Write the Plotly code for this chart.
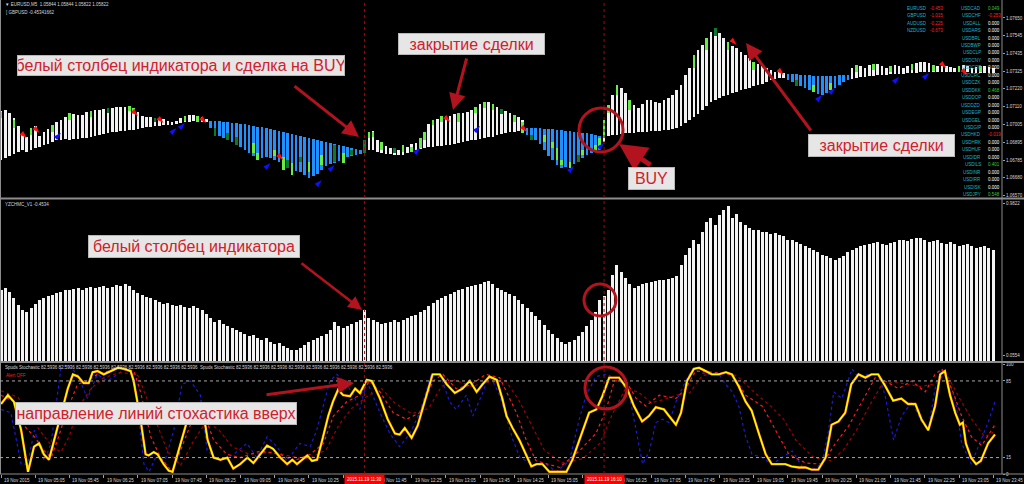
import plotly.graph_objects as go
from plotly.subplots import make_subplots

# ---------------- data ----------------
tick_labels = ["19 Nov 2015", "19 Nov 05:05", "19 Nov 05:45", "19 Nov 06:25", "19 Nov 07:05",
               "19 Nov 07:45", "19 Nov 08:25", "19 Nov 09:05", "19 Nov 09:45", "19 Nov 10:25",
               "19 Nov 11:05", "19 Nov 11:45", "19 Nov 12:25", "19 Nov 13:05", "19 Nov 13:45",
               "19 Nov 14:25", "19 Nov 15:05", "19 Nov 15:45", "19 Nov 16:25", "19 Nov 17:05",
               "19 Nov 17:45", "19 Nov 18:25", "19 Nov 19:05", "19 Nov 19:45", "19 Nov 20:25",
               "19 Nov 21:05", "19 Nov 21:45", "19 Nov 22:25", "19 Nov 23:05", "19 Nov 23:45"]
bars_per_label = 8
cursor_bars = [85, 141]
cursor_labels = ["2015.11.19 11:30", "2015.11.19 16:10"]

price_ticks = [1.07650, 1.07545, 1.07435, 1.07325, 1.07220, 1.07110, 1.07005,
               1.06895, 1.06785, 1.06680, 1.06570]

p1_top = [1.07085, 1.07091, 1.07073, 1.07043, 1.06994, 1.06952, 1.06927, 1.06982, 1.06994, 1.06933,
          1.06958, 1.06976, 1.07000, 1.07018, 1.07031, 1.07049, 1.07073, 1.07067, 1.07061, 1.07061,
          1.07079, 1.07085, 1.07091, 1.07091, 1.07097, 1.07103, 1.07103, 1.07110, 1.07110, 1.07110,
          1.07116, 1.07103, 1.07079, 1.07055, 1.07049, 1.07049, 1.07043, 1.07043, 1.07037, 1.07025,
          1.07018, 1.07025, 1.07043, 1.07055, 1.07061, 1.07061, 1.07055, 1.07049, 1.07037, 1.07025,
          1.07025, 1.07025, 1.07018, 1.07018, 1.07012, 1.07012, 1.07006, 1.07006, 1.07000, 1.06994,
          1.06988, 1.06988, 1.06982, 1.06976, 1.06970, 1.06964, 1.06958, 1.06952, 1.06946, 1.06940,
          1.06933, 1.06927, 1.06921, 1.06915, 1.06909, 1.06903, 1.06897, 1.06891, 1.06885, 1.06879,
          1.06873, 1.06867, 1.06861, 1.06855, 1.06848, 1.06909, 1.06958, 1.06964, 1.06909, 1.06885,
          1.06873, 1.06861, 1.06855, 1.06848, 1.06861, 1.06867, 1.06885, 1.06891, 1.06909, 1.06952,
          1.07006, 1.07025, 1.07037, 1.07049, 1.07055, 1.07055, 1.07067, 1.07073, 1.07073, 1.07079,
          1.07091, 1.07110, 1.07128, 1.07140, 1.07140, 1.07128, 1.07110, 1.07097, 1.07085, 1.07073,
          1.07061, 1.07049, 1.07031, 1.06982, 1.06982, 1.06982, 1.06982, 1.06976, 1.06976, 1.06976,
          1.06970, 1.06970, 1.06964, 1.06964, 1.06958, 1.06958, 1.06952, 1.06952, 1.06946, 1.06940,
          1.06933, 1.07031, 1.07122, 1.07182, 1.07243, 1.07225, 1.07194, 1.07152, 1.07122, 1.07103,
          1.07128, 1.07152, 1.07152, 1.07140, 1.07134, 1.07152, 1.07164, 1.07182, 1.07213, 1.07243,
          1.07304, 1.07346, 1.07425, 1.07455, 1.07486, 1.07528, 1.07565, 1.07589, 1.07559, 1.07528,
          1.07504, 1.07480, 1.07468, 1.07443, 1.07425, 1.07407, 1.07383, 1.07371, 1.07358, 1.07346,
          1.07334, 1.07322, 1.07322, 1.07316, 1.07310, 1.07310, 1.07310, 1.07304, 1.07304, 1.07304,
          1.07298, 1.07298, 1.07298, 1.07298, 1.07298, 1.07298, 1.07304, 1.07304, 1.07304, 1.07346,
          1.07364, 1.07358, 1.07346, 1.07364, 1.07371, 1.07371, 1.07358, 1.07346, 1.07358, 1.07364,
          1.07358, 1.07346, 1.07358, 1.07371, 1.07377, 1.07383, 1.07383, 1.07377, 1.07364, 1.07358,
          1.07358, 1.07358, 1.07352, 1.07346, 1.07358, 1.07364, 1.07358, 1.07346, 1.07352, 1.07358,
          1.07358, 1.07352, 1.07346]
p1_bot = [1.06788, 1.06800, 1.06812, 1.06824, 1.06836, 1.06848, 1.06836, 1.06848, 1.06861, 1.06867,
          1.06879, 1.06885, 1.06897, 1.06909, 1.06909, 1.06915, 1.06909, 1.06915, 1.06915, 1.06921,
          1.06921, 1.06927, 1.06933, 1.06940, 1.06946, 1.06952, 1.06958, 1.06958, 1.06964, 1.06964,
          1.06970, 1.06970, 1.06976, 1.06982, 1.06988, 1.06988, 1.06994, 1.06994, 1.07000, 1.07000,
          1.07000, 1.07006, 1.07012, 1.07018, 1.07018, 1.07025, 1.07025, 1.07018, 1.07018, 1.06982,
          1.06952, 1.06933, 1.06921, 1.06909, 1.06897, 1.06879, 1.06867, 1.06848, 1.06830, 1.06812,
          1.06788, 1.06800, 1.06806, 1.06800, 1.06788, 1.06776, 1.06764, 1.06739, 1.06727, 1.06721,
          1.06715, 1.06697, 1.06679, 1.06691, 1.06703, 1.06727, 1.06751, 1.06764, 1.06770, 1.06782,
          1.06800, 1.06806, 1.06812, 1.06818, 1.06824, 1.06830, 1.06848, 1.06848, 1.06836, 1.06830,
          1.06824, 1.06824, 1.06818, 1.06818, 1.06818, 1.06830, 1.06836, 1.06848, 1.06855, 1.06861,
          1.06867, 1.06867, 1.06873, 1.06873, 1.06879, 1.06879, 1.06885, 1.06891, 1.06897, 1.06903,
          1.06909, 1.06909, 1.06915, 1.06921, 1.06927, 1.06927, 1.06940, 1.06946, 1.06952, 1.06958,
          1.06958, 1.06964, 1.06964, 1.06940, 1.06927, 1.06909, 1.06885, 1.06848, 1.06812, 1.06788,
          1.06757, 1.06739, 1.06745, 1.06757, 1.06764, 1.06776, 1.06800, 1.06818, 1.06830, 1.06836,
          1.06848, 1.06897, 1.06933, 1.06940, 1.06940, 1.06946, 1.06952, 1.06952, 1.06952, 1.06958,
          1.06958, 1.06958, 1.06964, 1.06964, 1.06964, 1.06970, 1.06970, 1.06976, 1.06982, 1.06994,
          1.07012, 1.07031, 1.07049, 1.07067, 1.07091, 1.07116, 1.07140, 1.07152, 1.07164, 1.07176,
          1.07182, 1.07194, 1.07201, 1.07213, 1.07219, 1.07225, 1.07237, 1.07243, 1.07249, 1.07261,
          1.07273, 1.07279, 1.07286, 1.07286, 1.07273, 1.07261, 1.07249, 1.07237, 1.07225, 1.07213,
          1.07201, 1.07188, 1.07182, 1.07194, 1.07213, 1.07225, 1.07243, 1.07261, 1.07273, 1.07279,
          1.07286, 1.07292, 1.07292, 1.07298, 1.07298, 1.07304, 1.07304, 1.07304, 1.07310, 1.07310,
          1.07310, 1.07310, 1.07316, 1.07316, 1.07316, 1.07322, 1.07322, 1.07322, 1.07322, 1.07322,
          1.07322, 1.07322, 1.07322, 1.07322, 1.07322, 1.07322, 1.07322, 1.07316, 1.07316, 1.07316,
          1.07316, 1.07316, 1.07316]
trend_runs = [("up", 0, 48), ("down", 49, 84), ("up", 85, 122), ("down", 123, 140),
              ("up", 141, 183), ("down", 184, 198), ("up", 199, 232)]

# candle bodies drawn over the indicator bars: bar, body top, body bottom, kind
cndl_bar = [0, 3, 7, 12, 16, 21, 25, 30, 31, 36, 43, 46, 50, 53, 55, 59, 60, 64, 66, 67, 68, 70,
            72, 75, 78, 80, 82, 85, 86, 87, 89, 92, 94, 96, 98, 99, 101, 103, 107, 111, 113, 115,
            117, 120, 122, 124, 127, 129, 130, 131, 133, 135, 136, 139, 140, 141, 142, 144, 147,
            162, 165, 167, 170, 176, 186, 190, 194, 200, 204, 208, 213, 218, 224, 229]
cndl_hi = [1.07079, 1.07031, 1.06982, 1.07000, 1.07073, 1.07085, 1.07103, 1.07116, 1.07103, 1.07043,
           1.07055, 1.07055, 1.06982, 1.06952, 1.06927, 1.06891, 1.06830, 1.06848, 1.06806, 1.06788,
           1.06770, 1.06806, 1.06776, 1.06818, 1.06879, 1.06830, 1.06848, 1.06909, 1.06958, 1.06958,
           1.06897, 1.06861, 1.06879, 1.06867, 1.06921, 1.06958, 1.07031, 1.07055, 1.07073, 1.07110,
           1.07140, 1.07128, 1.07097, 1.07061, 1.07018, 1.06940, 1.06940, 1.06897, 1.06861, 1.06788,
           1.06776, 1.06818, 1.06848, 1.06879, 1.06921, 1.07031, 1.07122, 1.07243, 1.07152,
           1.07425, 1.07528, 1.07589, 1.07504, 1.07383, 1.07273, 1.07243, 1.07255, 1.07364, 1.07371,
           1.07358, 1.07371, 1.07364, 1.07358, 1.07358]
cndl_lo = [1.07043, 1.06982, 1.06940, 1.06958, 1.07031, 1.07049, 1.07073, 1.07085, 1.07067, 1.07018,
           1.07025, 1.07018, 1.06933, 1.06909, 1.06879, 1.06830, 1.06788, 1.06812, 1.06727, 1.06739,
           1.06697, 1.06776, 1.06715, 1.06757, 1.06776, 1.06770, 1.06818, 1.06830, 1.06921, 1.06927,
           1.06848, 1.06830, 1.06836, 1.06836, 1.06861, 1.06909, 1.07000, 1.07018, 1.07018, 1.07073,
           1.07103, 1.07091, 1.07067, 1.07018, 1.06952, 1.06909, 1.06897, 1.06861, 1.06788, 1.06757,
           1.06739, 1.06776, 1.06818, 1.06836, 1.06867, 1.06921, 1.07073, 1.07182, 1.07091,
           1.07346, 1.07455, 1.07540, 1.07455, 1.07334, 1.07237, 1.07201, 1.07213, 1.07322, 1.07334,
           1.07322, 1.07334, 1.07328, 1.07322, 1.07322]
cndl_kind = ["bull", "bull", "bull", "bull", "bull", "bull", "bear", "bull", "bull", "bear",
             "bull", "bull", "bear", "bear", "bear", "bull", "bull", "bull", "bull", "bear",
             "bull", "bear", "bull", "bull", "bear", "bull", "bear", "bear", "bull", "bull",
             "bull", "bear", "bull", "bull", "bull", "bull", "bull", "bull", "bull", "bull",
             "bull", "bull", "bear", "bull", "bull", "bear", "bull", "bull", "bull", "bull",
             "bull", "bear", "bull", "bull", "bull", "bull", "bull", "bull", "bull",
             "bull", "bull", "bear", "bull", "bull", "bear", "bull", "bull", "bull", "bull",
             "bull", "bull", "bull", "bull", "bull"]

sell_bars = [6, 9, 32, 38, 48, 66, 105, 123, 172, 183, 221, 226]
sell_price = [1.06921, 1.06952, 1.07055, 1.07012, 1.07012, 1.06788, 1.07018, 1.06958,
              1.07486, 1.07304, 1.07346, 1.07304]
buy_bars = [14, 41, 43, 63, 75, 78, 98, 112, 134, 141, 192, 195, 210, 217]
buy_price = [1.06952, 1.06982, 1.07012, 1.06770, 1.06666, 1.06757, 1.06861, 1.06994,
             1.06751, 1.06891, 1.07182, 1.07225, 1.07292, 1.07316]

osc = [0.452, 0.464, 0.440, 0.403, 0.360, 0.330, 0.318, 0.342, 0.366, 0.391,
       0.403, 0.415, 0.421, 0.434, 0.440, 0.452, 0.452, 0.458, 0.464, 0.452,
       0.464, 0.470, 0.464, 0.470, 0.476, 0.464, 0.470, 0.482, 0.476, 0.488,
       0.476, 0.452, 0.434, 0.421, 0.409, 0.403, 0.391, 0.379, 0.366, 0.372,
       0.360, 0.354, 0.360, 0.348, 0.342, 0.354, 0.342, 0.330, 0.305, 0.281,
       0.257, 0.269, 0.244, 0.232, 0.220, 0.208, 0.196, 0.183, 0.171, 0.177,
       0.159, 0.147, 0.159, 0.135, 0.122, 0.129, 0.110, 0.098, 0.086, 0.086,
       0.098, 0.116, 0.135, 0.147, 0.159, 0.171, 0.183, 0.208, 0.257, 0.232,
       0.220, 0.232, 0.244, 0.257, 0.269, 0.330, 0.281, 0.269, 0.257, 0.244,
       0.251, 0.257, 0.269, 0.257, 0.269, 0.281, 0.293, 0.299, 0.318, 0.330,
       0.354, 0.372, 0.391, 0.403, 0.415, 0.427, 0.440, 0.452, 0.458, 0.470,
       0.476, 0.482, 0.488, 0.501, 0.507, 0.488, 0.464, 0.452, 0.440, 0.427,
       0.415, 0.391, 0.366, 0.342, 0.318, 0.293, 0.269, 0.238, 0.208, 0.183,
       0.159, 0.135, 0.122, 0.135, 0.147, 0.171, 0.196, 0.232, 0.269, 0.318,
       0.391, 0.415, 0.452, 0.543, 0.604, 0.562, 0.525, 0.488, 0.464, 0.476,
       0.488, 0.494, 0.501, 0.507, 0.513, 0.513, 0.519, 0.525, 0.537, 0.604,
       0.665, 0.708, 0.757, 0.732, 0.805, 0.866, 0.891, 0.848, 0.909, 0.940,
       0.964, 0.891, 0.915, 0.866, 0.848, 0.830, 0.818, 0.818, 0.805, 0.805,
       0.793, 0.799, 0.787, 0.781, 0.757, 0.757, 0.744, 0.732, 0.720, 0.708,
       0.696, 0.683, 0.665, 0.659, 0.647, 0.635, 0.647, 0.659, 0.683, 0.696,
       0.708, 0.720, 0.726, 0.732, 0.738, 0.744, 0.732, 0.726, 0.738, 0.744,
       0.757, 0.757, 0.750, 0.763, 0.769, 0.769, 0.757, 0.744, 0.750, 0.757,
       0.738, 0.732, 0.744, 0.732, 0.720, 0.726, 0.732, 0.720, 0.708, 0.714,
       0.720, 0.708, 0.696]

main_bar = [0, 1.6, 3, 4.7, 6.3, 7.7, 8.9, 10, 11.2, 12.4, 14, 15.6, 16.8, 18, 19.3, 20.5, 21.4, 22.6,
            24, 25.6, 27.3, 28.7, 30.3, 31, 32.6, 33.8, 34.5, 35.7, 36.6, 38, 39.2, 40.1, 41.3, 43.6,
            45, 46.2, 47.1, 48.3, 49.7, 51.3, 52.9, 54.3, 55.9, 57.6, 59, 60.6, 62.2, 63.6, 65.3,
            66.9, 68.1, 69.2, 70.4, 71.6, 72.7, 73.9, 75.1, 76.5, 77.6, 78.8, 80, 81.6, 82.8, 83.9,
            85.5, 86.7, 88.6, 90.4, 92.1, 93.2, 94.4, 96, 97.4, 99.1, 100.9, 102.6, 104.2, 106.1,
            107.9, 109.6, 111.2, 112.6, 114.2, 115.9, 117.2, 118.2, 119.6, 121.2, 122.8, 124, 125.2,
            126.6, 128.2, 132.2, 133.6, 135.7, 137.5, 139.2, 140.6, 142.2, 144.5, 146.4, 148, 149.9,
            151.5, 153.1, 155, 156.2, 157.8, 159, 160.4, 162, 163.2, 164.8, 166.2, 167.8, 169.5,
            170.9, 172.5, 174.1, 175.5, 177.2, 178.8, 180.2, 181.8, 183.4, 184.8, 186.5, 188.1,
            189.5, 191.1, 192.8, 194.2, 195.8, 197.4, 198.8, 200.5, 202.1, 203.5, 205.1, 206.8,
            208.6, 210.5, 212.1, 213.8, 215.2, 216.8, 218.4, 219.6, 220.7, 221.9, 223.1, 224.2,
            224.9, 225.6, 226.8, 228, 229.1, 230.8, 232.4]
main_val = [64, 72, 66, 40, 2, 25, 28, 18, 13, 31, 56, 78, 91, 89, 83, 83, 93, 94,
            91, 94, 97, 96, 94, 85, 50, 18, 17, 20, 18, 9, 3, 2, 18, 50,
            62, 64, 61, 31, 15, 13, 15, 5, 9, 15, 10, 18, 26, 23, 15,
            9, 13, 9, 13, 17, 12, 13, 31, 53, 66, 77, 72, 71, 78, 74,
            86, 85, 69, 50, 37, 36, 42, 33, 44, 66, 91, 91, 82, 74,
            78, 85, 75, 82, 89, 86, 69, 53, 42, 31, 17, 7, 9,
            9, 2, 2, 13, 37, 56, 59, 71, 88, 88, 78, 62, 48,
            53, 61, 59, 53, 45, 56, 85, 96, 97, 94, 91, 91, 93,
            91, 80, 66, 58, 37, 18, 9, 9, 9, 7, 6, 6,
            4, 4, 15, 45, 48, 56, 82, 91, 88, 91, 91, 80,
            67, 69, 64, 64, 50, 40, 62, 91, 94, 72, 56, 45,
            47, 28, 15, 9, 12, 28, 36]

sig1_bar = [0, 3.1, 5.4, 7.8, 10.1, 11.7, 13.2, 15.5, 17.9, 20.2, 22.5, 25.6, 28, 31.1, 32.6, 35, 37.3,
            40, 42.3, 45.1, 47.4, 49.7, 52.8, 55.9, 60.6, 65.3, 68.4, 72.3, 75.4, 77.7, 80.8, 83.9,
            86.2, 88.6, 91.7, 94.8, 97.9, 101, 103.3, 106.4, 109.6, 113.4, 116.6, 118.2, 120.5, 122.8,
            125.1, 130.6, 135.2, 139.1, 141.5, 143.4, 146.1, 148.5, 150.8, 153.9, 157.8, 160.1, 162.4,
            166.3, 171, 174.1, 178, 181.1, 184.2, 188.1, 192, 195.1, 198.2, 201.3, 204.4, 206.7, 209.8,
            212.9, 216.1, 218.4, 220, 222.3, 224.6, 226.9, 229.3, 231.6, 232.4]
sig1_val = [72, 66, 44, 34, 21, 15, 31, 59, 82, 85, 91, 94, 97, 94, 75, 34, 15,
            2, 25, 53, 56, 31, 18, 15, 21, 18, 12, 18, 28, 53, 66, 72,
            85, 75, 56, 50, 56, 85, 91, 78, 81, 91, 88, 75, 56, 31,
            12, 6, 21, 37, 59, 85, 85, 69, 62, 72, 69, 78, 94,
            93, 91, 72, 62, 40, 18, 10, 9, 28, 44, 66, 88, 85, 78,
            85, 75, 91, 96, 78, 53, 34, 26, 40, 45]

sig2_bar = [0, 4, 7, 9, 12, 14, 16, 18, 21, 24, 28, 32, 34, 37, 39, 42, 45, 48, 51, 54, 58, 63, 68,
            72, 76, 79, 82, 86, 89, 92, 96, 100, 103, 106, 110, 114, 118, 121, 124, 127, 131, 136,
            140, 143, 146, 149, 152, 155, 158, 161, 164, 168, 172, 176, 180, 183, 186, 190, 194, 197,
            200, 203, 206, 209, 212, 215, 218, 221, 224, 227, 230, 232]
sig2_val = [76, 70, 52, 40, 25, 20, 35, 60, 78, 88, 93, 90, 70, 40, 20, 8, 30, 48, 40, 25, 18, 20, 16,
            14, 22, 45, 60, 72, 78, 65, 55, 60, 80, 86, 80, 84, 85, 68, 45, 22, 10, 14,
            28, 55, 78, 75, 65, 68, 72, 74, 90, 92, 90, 75, 62, 50, 30, 15, 12, 22,
            40, 62, 82, 84, 82, 80, 82, 92, 70, 50, 34, 38]

fast_bar = [0, 2.3, 4.7, 6.2, 7.8, 10.1, 11.7, 14, 15.5, 17.9, 20.2, 22.5, 24.9, 27.2, 29.5, 31.1, 33.4,
            34.6, 36.5, 38.1, 40.4, 42.3, 44.3, 46.6, 48.2, 51.3, 54.4, 57.5, 59.8, 62.2, 64.5, 66.8,
            69.9, 72.3, 73.8, 76.9, 78.5, 80.8, 82.4, 83.9, 85.5, 88.6, 90.9, 93.2, 95.6, 97.9, 100.6,
            102.6, 104.9, 106.4, 108.8, 110.3, 112.7, 114.2, 116.6, 119.7, 121.3, 124.4, 127.5, 129.8,
            132.9, 135.2, 136.8, 139.1, 141.5, 144.6, 146.9, 148.5, 150, 151.6, 153.1, 154.7, 156.2,
            157.8, 160.1, 161.7, 164.8, 167.9, 169.4, 171, 172.5, 174.1, 175.6, 178, 180.3, 182.6,
            185, 187.3, 190.4, 192, 193.5, 194.7, 196.6, 199, 200.5, 202.8, 205.2, 206.7, 208.7,
            210.6, 213, 215.3, 216.8, 218.4, 220, 221.5, 223.1, 224.6, 226.9, 228.5, 230.8, 232.4]
fast_val = [59, 56, 9, 9, 40, 12, 28, 97, 100, 91, 69, 91, 85, 91, 97, 91, 9,
            2, 18, 9, 40, 82, 85, 72, 21, 12, 18, 28, 15, 34, 25, 12,
            28, 25, 40, 85, 91, 82, 72, 59, 85, 56, 37, 25, 37, 56, 91,
            91, 66, 59, 72, 53, 75, 91, 72, 31, 15, 9, 9, 2,
            12, 50, 72, 89, 91, 86, 72, 40, 9, 21, 47, 50, 47,
            66, 85, 96, 91, 91, 82, 75, 62, 34, 18, 15, 9, 15,
            21, 7, 5, 10, 40, 75, 69, 96, 88, 91, 91, 72, 31,
            53, 66, 47, 40, 78, 96, 85, 69, 28, 9, 25, 47, 66]

left_pairs = ["EURUSD", "GBPUSD", "AUDUSD", "NZDUSD"]
left_vals = [-0.453, -1.015, -0.225, -0.673]
right_pairs = ["USDCAD", "USDCHF", "USDALL", "USDARS", "USDBRL", "USDBWP", "USDCLP", "USDCNY",
               "USDCOP", "USDCRC", "USDCZK", "USDDKK", "USDDOP", "USDDZD", "USDEGP", "USDGEL",
               "USDGIP", "USDHKD", "USDHRK", "USDHUF", "USDIDR", "USDILS", "USDINR", "USDIRR",
               "USDISK", "USDJPY"]
right_vals = [0.049, -0.253, 0, 0, 0, 0, 0, 0, 0, 0, 0, 0.468, 0, 0, 0, 0, 0, -0.019, 0, 0, 0,
              0.401, 0, 0, 0, 0.548]

# ---------------- geometry helpers ----------------
W, H = 1024, 484
ML, MR, MT, MB = 0, 22, 0, 10
PW, PH = W - ML - MR, H - MT - MB


def PX(x):
    return (x - ML) / PW


def PY(y):
    return 1 - (y - MT) / PH


FS = 4.5
SMALL = dict(family="Liberation Sans", size=FS, color="#d8d8d8")

fig = make_subplots(rows=3, cols=1, shared_xaxes=True)

# ---- panel 1 ----
up_x, up_b, up_h, dn_x, dn_b, dn_h = [], [], [], [], [], []
for kind, a, b in trend_runs:
    for i in range(a, b + 1):
        if kind == "up":
            up_x.append(i); up_b.append(p1_bot[i]); up_h.append(p1_top[i] - p1_bot[i])
        else:
            dn_x.append(i); dn_b.append(p1_bot[i]); dn_h.append(p1_top[i] - p1_bot[i])
fig.add_trace(go.Bar(x=up_x, y=up_h, base=up_b, width=0.62,
                     marker=dict(color="#f2f2f2", line_width=0)), row=1, col=1)
fig.add_trace(go.Bar(x=dn_x, y=dn_h, base=dn_b, width=0.62,
                     marker=dict(color="#1e90ff", line_width=0)), row=1, col=1)
for kind, col in [("bull", "#66ee44"), ("bear", "#0c7a2c")]:
    idx = [k for k, kk in enumerate(cndl_kind) if kk == kind]
    fig.add_trace(go.Bar(x=[cndl_bar[k] for k in idx],
                         y=[cndl_hi[k] - cndl_lo[k] for k in idx],
                         base=[cndl_lo[k] for k in idx], width=0.62,
                         marker=dict(color=col, line_width=0)), row=1, col=1)
fig.add_trace(go.Scatter(x=sell_bars, y=sell_price, mode="markers",
                         marker=dict(symbol="arrow", angle=135, size=8, color="#ff1010")), row=1, col=1)
fig.add_trace(go.Scatter(x=buy_bars, y=buy_price, mode="markers",
                         marker=dict(symbol="arrow", angle=45, size=8, color="#1010ff")), row=1, col=1)

# ---- panel 2 ----
fig.add_trace(go.Bar(x=list(range(len(osc))), y=osc, width=0.7,
                     marker=dict(color="#f4f4f4", line_width=0)), row=2, col=1)

# ---- panel 3 ----
fig.add_trace(go.Scatter(x=fast_bar, y=fast_val, mode="lines",
                         line=dict(color="#1a1ad8", width=1.2, dash="dot")), row=3, col=1)
fig.add_trace(go.Scatter(x=sig2_bar, y=sig2_val, mode="lines",
                         line=dict(color="#a00000", width=1.2, dash="dot")), row=3, col=1)
fig.add_trace(go.Scatter(x=sig1_bar, y=sig1_val, mode="lines",
                         line=dict(color="#ff1a1a", width=1.2, dash="dot")), row=3, col=1)
fig.add_trace(go.Scatter(x=main_bar, y=main_val, mode="lines",
                         line=dict(color="#ff8000", width=2.4)), row=3, col=1)
fig.add_trace(go.Scatter(x=main_bar, y=main_val, mode="lines",
                         line=dict(color="#ffff00", width=1.4)), row=3, col=1)

n_bars = len(p1_top)
tickvals = [k * bars_per_label for k in range(len(tick_labels))]
xr = [-0.25, n_bars + 1.05]
for ax in ["xaxis", "xaxis2", "xaxis3"]:
    fig.layout[ax].update(range=xr, showgrid=False, zeroline=False, showticklabels=False,
                          showline=False)
fig.layout.xaxis3.update(tickvals=tickvals, ticks="outside", ticklen=3, tickcolor="#a0a0a0",
                         tickwidth=1)

yax_common = dict(side="right", showgrid=False, zeroline=False, tickfont=SMALL,
                  ticks="outside", ticklen=2, tickcolor="#a0a0a0", showline=False)
fig.layout.yaxis.update(domain=[PY(197), 1], range=[1.06563, 1.07759], tickvals=price_ticks,
                        tickformat=".5f", **yax_common)
fig.layout.yaxis2.update(domain=[PY(361), PY(200)], range=[0.0188, 1.0005],
                         tickvals=[0.9822, 0.0554], tickformat=".4f", **yax_common)
fig.layout.yaxis3.update(domain=[0, PY(363)], range=[0, 101.4], tickvals=[100, 85, 15, 0],
                         tickformat="d", **yax_common)

shapes = []
# panel separators and frame
for y in [198.5, 362]:
    shapes.append(dict(type="line", xref="paper", yref="paper", x0=0, x1=PX(1024), y0=PY(y), y1=PY(y),
                       line=dict(color="#8c8c8c", width=2)))
shapes.append(dict(type="line", xref="paper", yref="paper", x0=0, x1=PX(1024), y0=PY(474), y1=PY(474),
                   line=dict(color="#8c8c8c", width=1)))
shapes.append(dict(type="line", xref="paper", yref="paper", x0=PX(1002), x1=PX(1002), y0=PY(474), y1=1,
                   line=dict(color="#8c8c8c", width=1)))
shapes.append(dict(type="line", xref="paper", yref="paper", x0=PX(0.5), x1=PX(0.5), y0=PY(474), y1=1,
                   line=dict(color="#8c8c8c", width=1)))
# stochastic levels
for lv in [85, 15]:
    shapes.append(dict(type="line", xref="paper", yref="y3", x0=0, x1=1, y0=lv, y1=lv,
                       line=dict(color="#a8a8a8", width=1, dash="dot")))
# cursor lines
for cb in cursor_bars:
    shapes.append(dict(type="line", xref="x3", yref="paper", x0=cb, x1=cb, y0=0, y1=1,
                       line=dict(color="#b00000", width=1, dash="dot")))
# red circles
for (cx, cy, r) in [(601, 130, 22), (600, 300, 16), (606, 388, 21)]:
    shapes.append(dict(type="circle", xref="paper", yref="paper", x0=PX(cx - r), x1=PX(cx + r),
                       y0=PY(cy + r), y1=PY(cy - r), line=dict(color="#b3121f", width=3)))

ann = []
for lab, tv in zip(tick_labels, tickvals):
    if any(cb - 6 < tv <= cb for cb in cursor_bars):
        continue  # fully hidden under the cursor time box
    ann.append(dict(x=tv, xref="x3", y=PY(480), yref="paper", text=lab, showarrow=False,
                    xanchor="left", yanchor="middle", xshift=1, font=SMALL))
for lab, cb in zip(cursor_labels, cursor_bars):
    ann.append(dict(x=cb, xref="x3", y=PY(479.5), yref="paper", text=lab, showarrow=False,
                    xanchor="center", yanchor="middle", bgcolor="#ff0000", borderpad=2,
                    font=dict(family="Liberation Sans", size=FS, color="#ffffff")))

# header texts
ann.append(dict(x=PX(3), y=PY(5), xref="paper", yref="paper", showarrow=False, xanchor="left",
                yanchor="middle", text="▼ EURUSD,M5  1.05844 1.05844 1.05822 1.05822", font=SMALL))
ann.append(dict(x=PX(4), y=PY(12), xref="paper", yref="paper", showarrow=False, xanchor="left",
                yanchor="middle", text="[ GBPUSD -0.45341662", font=SMALL))
ann.append(dict(x=PX(3), y=PY(205), xref="paper", yref="paper", showarrow=False, xanchor="left",
                yanchor="middle", text="YZCHMC_V1 -0.4534", font=SMALL))
stoch_hdr = "Spuds Stochastic " + " ".join(["82.5936"] * 9) + "  Spuds Stochastic " + " ".join(["82.5936"] * 9)
ann.append(dict(x=PX(3), y=PY(367), xref="paper", yref="paper", showarrow=False, xanchor="left",
                yanchor="middle", text=stoch_hdr, font=SMALL))
ann.append(dict(x=PX(4), y=PY(375), xref="paper", yref="paper", showarrow=False, xanchor="left",
                yanchor="middle", text="Alert OFF",
                font=dict(family="Liberation Sans", size=FS, color="#ff2020")))


def vcol(v):
    return "#ff2020" if v < 0 else ("#30d030" if v > 0 else "#ffffff")


for k, (nm, v) in enumerate(zip(left_pairs, left_vals)):
    yy = 8.3 + 7.45 * k
    ann.append(dict(x=PX(905), y=PY(yy), xref="paper", yref="paper", showarrow=False, xanchor="left",
                    yanchor="middle", text=nm, font=dict(family="Liberation Sans", size=FS, color="#20b4c4")))
    ann.append(dict(x=PX(928), y=PY(yy), xref="paper", yref="paper", showarrow=False, xanchor="left",
                    yanchor="middle", text=f"{v:.3f}", font=dict(family="Liberation Sans", size=FS, color=vcol(v))))
for k, (nm, v) in enumerate(zip(right_pairs, right_vals)):
    yy = 8.3 + 7.45 * k
    ann.append(dict(x=PX(983), y=PY(yy), xref="paper", yref="paper", showarrow=False, xanchor="right",
                    yanchor="middle", text=nm, font=dict(family="Liberation Sans", size=FS, color="#20b4c4")))
    ann.append(dict(x=PX(986), y=PY(yy), xref="paper", yref="paper", showarrow=False, xanchor="left",
                    yanchor="middle", text=f"{v:.3f}", font=dict(family="Liberation Sans", size=FS, color=vcol(v))))

# arrows (tip, tail) in pixels
for (tx, ty, sx, sy, w) in [(359, 137, 293, 85, 3), (453, 110, 467, 57, 3), (619, 144, 652, 166, 5),
                            (746, 43, 812, 132, 3), (362, 310, 300, 262, 2.5), (354, 383, 265, 395, 3)]:
    ann.append(dict(x=PX(tx), y=PY(ty), xref="paper", yref="paper", ax=sx - tx, ay=sy - ty,
                    text="", showarrow=True, arrowhead=2, arrowsize=1.1, arrowwidth=w,
                    arrowcolor="#b3121f"))

# callout boxes
RED = "#d0202c"
for (txt, x0, x1, y0, y1) in [("белый столбец индикатора и сделка на BUY", 17, 345, 55, 76),
                              ("закрытие сделки", 398, 545, 33, 55),
                              ("BUY", 628, 675, 167, 190),
                              ("закрытие сделки", 808, 955, 134, 157),
                              ("белый столбец индикатора", 88, 300, 235, 258),
                              ("направление линий стохастика вверх", 15, 297, 402, 425)]:
    ann.append(dict(x=PX((x0 + x1) / 2), y=PY((y0 + y1) / 2), xref="paper", yref="paper",
                    text=txt, showarrow=False, xanchor="center", yanchor="middle",
                    width=x1 - x0 - 2, height=y1 - y0 - 2, borderpad=0, borderwidth=1,
                    bordercolor="#b8b8b8", bgcolor="#e6e6e6",
                    font=dict(family="Liberation Sans", size=16, color=RED)))

fig.update_layout(width=W, height=H, margin=dict(l=ML, r=MR, t=MT, b=MB),
                  paper_bgcolor="#000000", plot_bgcolor="#000000", showlegend=False,
                  barmode="overlay", bargap=0, shapes=shapes, annotations=ann)

fig.write_html("out.html", config={"displayModeBar": False},
               post_script="document.body.style.margin='0';document.body.style.background='#000';")
